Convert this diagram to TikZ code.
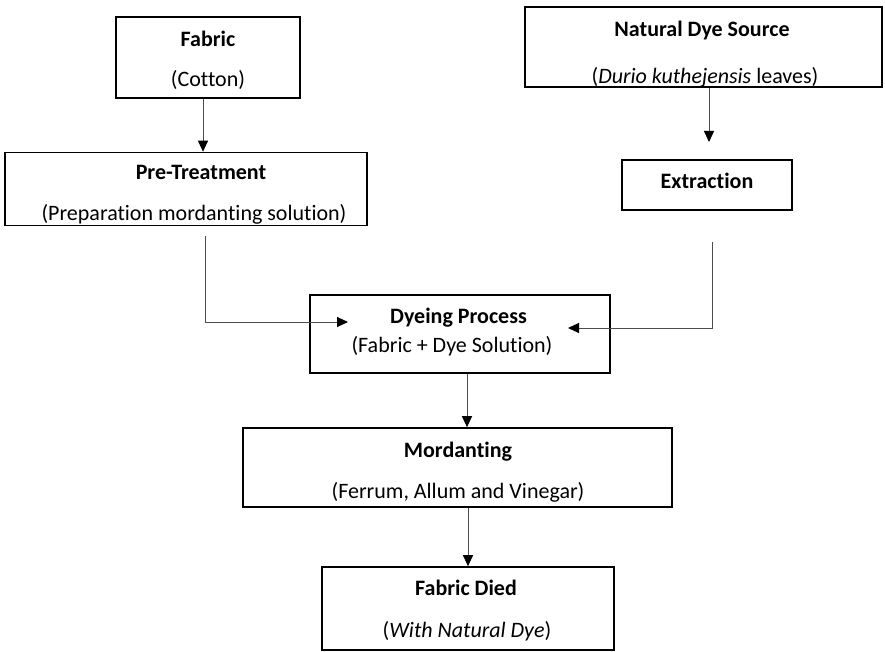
\documentclass[tikz,border=0pt]{standalone}
\usepackage{fontspec}
\setmainfont{Carlito}[Ligatures=NoCommon]
\usetikzlibrary{arrows.meta}
\begin{document}
\begin{tikzpicture}[x=1pt,y=-1pt,
  box/.style={draw=black,line width=1.6pt,inner sep=0pt},
  txt/.style={anchor=base,inner sep=0pt,font=\fontsize{22}{25}\selectfont},
  btxt/.style={txt,font=\fontsize{22}{25}\selectfont\bfseries},
  arr/.style={draw=black!70,line width=1pt,-{Triangle[length=11pt,width=10pt,color=black]}},
  ln/.style={draw=black!70,line width=1pt}]
\useasboundingbox (0,0) rectangle (885,652);
% boxes
\node[box,minimum width=184pt,minimum height=81pt] (fab) at (208,57.5) {};
\node[box,minimum width=357pt,minimum height=80pt] (nds) at (703.5,47) {};
\node[box,minimum width=362pt,minimum height=73pt] (pre) at (186,189) {};
\node[box,minimum width=170pt,minimum height=50pt] (ext) at (707,185) {};
\node[box,minimum width=300pt,minimum height=78pt] (dye) at (460,334) {};
\node[box,minimum width=429pt,minimum height=79pt] (mor) at (457.5,467.5) {};
\node[box,minimum width=292pt,minimum height=83pt] (fd) at (468,608.5) {};
% texts
\node[btxt] (fab1) at (208,47) {Fabric};
\node[txt] (fab2) at (208,86.5) {(Cotton)};
\node[btxt] (nds1) at (702,36.5) {Natural Dye Source};
\node[txt] (nds2) at (705,83.5) {(\textit{Durio kuthejensis} leaves)};
\node[btxt] (pre1) at (201,179.5) {Pre-Treatment};
\node[txt] (pre2) at (194,220.5) {(Preparation mordanting solution)};
\node[btxt] (ext1) at (707,189) {Extraction};
\node[btxt] (dye1) at (458.5,323.5) {Dyeing Process};
\node[txt] (dye2) at (452,352) {(Fabric + Dye Solution)};
\node[btxt] (mor1) at (458,457.5) {Mordanting};
\node[txt] (mor2) at (458,498.5) {(Ferrum, Allum and Vinegar)};
\node[btxt] (fd1) at (466,595.5) {Fabric Died};
\node[txt] (fd2) at (467,637.5) {(\textit{With Natural Dye})};
% coordinates
\coordinate (ndsend) at (709,142);
\coordinate (preS) at (205,236);
\coordinate (preC) at (205,322);
\coordinate (dyeL) at (348,322);
\coordinate (extS) at (712,242);
\coordinate (extC) at (712,328);
\coordinate (dyeR) at (568,328);
% connectors
\draw[arr] (fab.south -| 203,0) -- (pre.north -| 203,0);
\draw[arr] (nds.south -| ndsend) -- (ndsend);
\draw[arr] (preS) -- (preC) -- (dyeL);
\draw[arr] (extS) -- (extC) -- (dyeR);
\draw[arr] (dye.south -| 467,0) -- (mor.north -| 467,0);
\draw[arr] (mor.south -| 468,0) -- (fd.north -| 468,0);
\end{tikzpicture}
\end{document}
